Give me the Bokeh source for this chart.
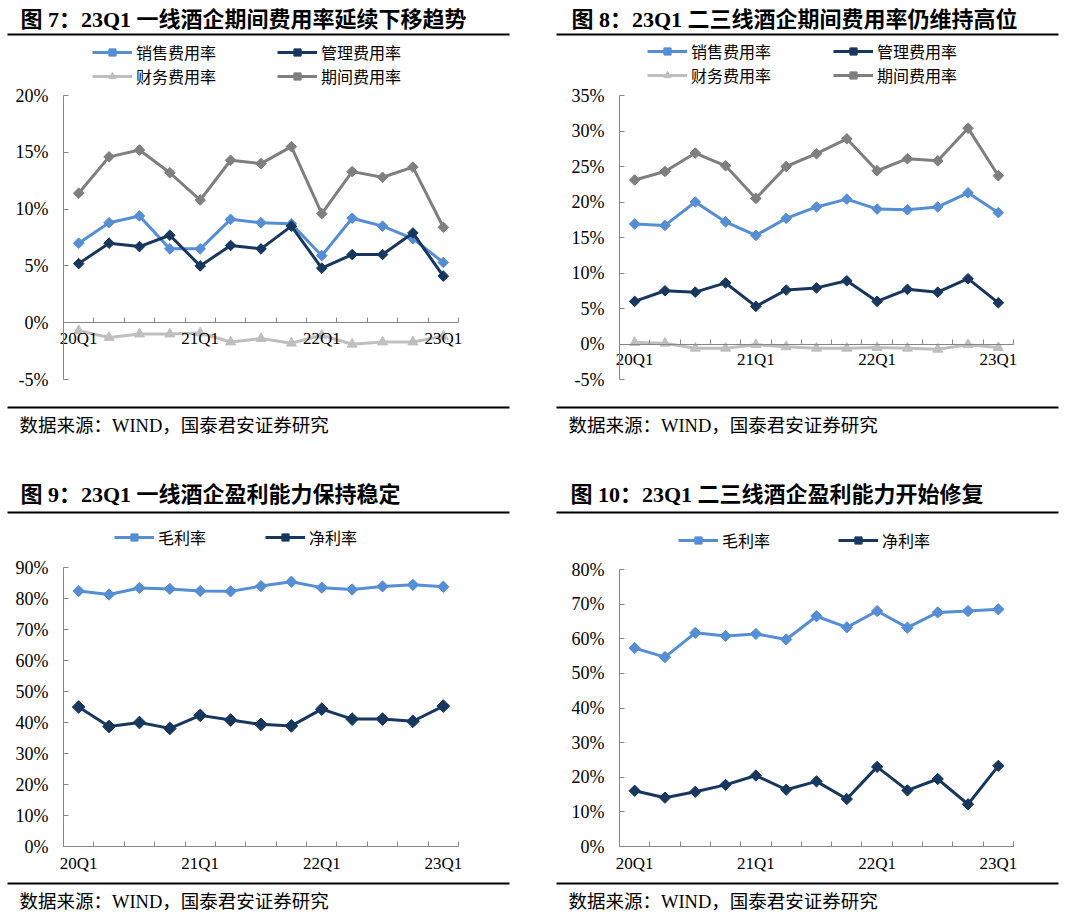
from bokeh.plotting import figure
from bokeh.models import (Range1d, FixedTicker, PrintfTickFormatter, Legend, LegendItem,
                          Label, Arrow)
from bokeh.layouts import column, row
from bokeh.embed import file_html
from bokeh.resources import INLINE
import numpy as np

# ---------------- data ----------------
quarters = ["20Q1", "20Q2", "20Q3", "20Q4", "21Q1", "21Q2", "21Q3", "21Q4",
            "22Q1", "22Q2", "22Q3", "22Q4", "23Q1"]
shown_quarters = ["20Q1", "21Q1", "22Q1", "23Q1"]

# 图7 一线酒企 (%)
sales_1 = [7.0, 8.8, 9.4, 6.5, 6.5, 9.1, 8.8, 8.7, 5.9, 9.2, 8.5, 7.4, 5.3]
admin_1 = [5.2, 7.0, 6.7, 7.7, 5.0, 6.8, 6.5, 8.5, 4.8, 6.0, 6.0, 7.9, 4.1]
fin_1 = [-0.7, -1.3, -1.0, -1.0, -0.9, -1.7, -1.4, -1.8, -1.1, -1.9, -1.7, -1.7, -1.2]
period_1 = [11.4, 14.6, 15.2, 13.2, 10.8, 14.3, 14.0, 15.5, 9.6, 13.3, 12.8, 13.7, 8.4]

# 图8 二三线酒企 (%)
sales_2 = [16.9, 16.7, 20.0, 17.2, 15.3, 17.7, 19.3, 20.4, 19.0, 18.9, 19.3, 21.3, 18.5]
admin_2 = [6.0, 7.5, 7.3, 8.6, 5.3, 7.6, 7.9, 8.9, 6.0, 7.7, 7.3, 9.2, 5.8]
fin_2 = [0.2, 0.1, -0.6, -0.6, -0.1, -0.4, -0.6, -0.6, -0.5, -0.6, -0.75, -0.1, -0.5]
period_2 = [23.1, 24.3, 26.9, 25.1, 20.5, 25.0, 26.8, 28.9, 24.4, 26.1, 25.8, 30.4, 23.7]

# 图9 一线酒企盈利能力 (%)
gross_3 = [82.4, 81.3, 83.4, 83.1, 82.4, 82.3, 84.0, 85.4, 83.5, 82.9, 83.9, 84.4, 83.8]
net_3 = [45.0, 38.7, 40.0, 38.1, 42.3, 40.8, 39.4, 38.9, 44.3, 41.1, 41.1, 40.4, 45.3]

# 图10 二三线酒企盈利能力 (%)
gross_4 = [57.3, 54.7, 61.7, 60.8, 61.4, 59.8, 66.5, 63.3, 68.0, 63.2, 67.6, 68.0, 68.5]
net_4 = [16.1, 14.1, 15.8, 17.8, 20.5, 16.4, 18.8, 13.7, 23.0, 16.2, 19.5, 12.2, 23.3]

titles = ["图 7：23Q1 一线酒企期间费用率延续下移趋势",
          "图 8：23Q1 二三线酒企期间费用率仍维持高位",
          "图 9：23Q1 一线酒企盈利能力保持稳定",
          "图 10：23Q1 二三线酒企盈利能力开始修复"]
source_text = "数据来源：WIND，国泰君安证券研究"
exp_labels = ["销售费用率", "管理费用率", "财务费用率", "期间费用率"]
prof_labels = ["毛利率", "净利率"]

# ---------------- style ----------------
BLUE = "#558ED5"
NAVY = "#17375E"
GRAY = "#7F7F7F"
LGRAY = "#BFBFBF"
AXIS = "#868686"
MIX_FONT = "Liberation Serif, Noto Sans CJK SC"
CJK_FONT = "Noto Sans CJK SC"
NUM_FONT = "Liberation Serif"

xs = list(range(len(quarters)))
NQ = len(quarters)


def make_panel(width, height, fl, fr, ft, fb, y0, y1, ystep, x_axis_y):
    # frame = whole figure; the data area is positioned by the ranges
    kx = NQ / (fr - fl)
    ky = (y1 - y0) / (fb - ft)
    xr = Range1d(-0.5 - fl * kx, NQ - 0.5 + (width - fr) * kx)
    yr = Range1d(y0 - (height - fb) * ky, y1 + ft * ky)
    p = figure(width=width, height=height, output_backend="svg", toolbar_location=None,
               x_range=xr, y_range=yr, min_border=0,
               min_border_left=0, min_border_right=0, min_border_top=0, min_border_bottom=0)
    p.outline_line_color = None
    p.grid.visible = False
    p.background_fill_color = "white"
    p.border_fill_color = "white"

    xa = p.xaxis[0]
    xa.fixed_location = x_axis_y
    xa.bounds = (-0.5, NQ - 0.5)
    xa.ticker = FixedTicker(ticks=[quarters.index(q) for q in shown_quarters],
                            minor_ticks=[i - 0.5 for i in range(NQ + 1)])
    xa.major_label_overrides = {quarters.index(q): q for q in shown_quarters}
    xa.major_tick_in = 0
    xa.major_tick_out = 0
    xa.minor_tick_in = 5
    xa.minor_tick_out = 0
    xa.minor_tick_line_color = AXIS
    xa.axis_line_color = AXIS
    xa.major_label_text_font = NUM_FONT
    xa.major_label_text_font_size = "17px"
    xa.major_label_text_color = "black"
    xa.major_label_standoff = 6

    ya = p.yaxis[0]
    ya.fixed_location = -0.5
    ya.bounds = (y0, y1)
    ya.ticker = FixedTicker(ticks=[float(v) for v in np.arange(y0, y1 + 0.001, ystep)])
    ya.formatter = PrintfTickFormatter(format="%d%%")
    ya.major_tick_in = 5
    ya.major_tick_out = 0
    ya.minor_tick_line_color = None
    ya.major_tick_line_color = AXIS
    ya.axis_line_color = AXIS
    ya.major_label_text_font = NUM_FONT
    ya.major_label_text_font_size = "18px"
    ya.major_label_text_color = "black"
    ya.major_label_standoff = 15

    def to_data(px, py):
        return xr.start + px * kx, yr.end - py * ky

    p._to_data = to_data
    p._h = height
    return p


def decorate(p, title, tx, ty, rule_x0, rule_x1, rule_top, rule_bottom, sx, sy):
    to_data = p._to_data
    x, y = to_data(tx, ty)
    p.add_layout(Label(x=x, y=y, text=title, text_font=MIX_FONT, text_font_size="22px",
                       text_font_style="bold", text_baseline="middle", text_align="left",
                       text_color="black"))
    for ry in (rule_top, rule_bottom):
        xa_, ya_ = to_data(rule_x0, ry)
        xb_, yb_ = to_data(rule_x1, ry)
        p.add_layout(Arrow(end=None, x_start=xa_, y_start=ya_, x_end=xb_, y_end=yb_,
                           line_color="black", line_width=2))
    x, y = to_data(sx, sy)
    p.add_layout(Label(x=x, y=y, text=source_text, text_font=MIX_FONT, text_font_size="18.5px",
                       text_baseline="middle", text_align="left", text_color="black"))


def series(p, vals, color, marker, size):
    r1 = p.line(xs, vals, line_color=color, line_width=3)
    if marker == "diamond":
        r2 = p.scatter(xs, vals, marker="square", angle=np.pi / 4, size=size,
                       fill_color=color, line_color=color)
    else:
        r2 = p.scatter(xs, vals, marker="triangle", size=size, fill_color=color, line_color=color)
    return [r1, r2]


ITEM_H = 18


def add_legend(p, items, gx, cy, label_width, spacing):
    vx = gx
    vy = p._h - (cy + ITEM_H / 2)
    lg = Legend(items=items, orientation="horizontal", location=(vx, vy),
                glyph_width=40, glyph_height=ITEM_H, label_height=ITEM_H,
                label_width=label_width, label_standoff=4, spacing=spacing,
                padding=0, margin=0, border_line_color=None, background_fill_alpha=0,
                label_text_font=CJK_FONT, label_text_font_size="16px",
                label_text_color="black")
    p.add_layout(lg)


# ---------------- panel 1 ----------------
p1 = make_panel(548, 458, 63, 458, 95, 379, -5, 20, 5, 0)
r_fin1 = series(p1, fin_1, LGRAY, "triangle", 10)
r_per1 = series(p1, period_1, GRAY, "diamond", 7.5)
r_sal1 = series(p1, sales_1, BLUE, "diamond", 7.5)
r_adm1 = series(p1, admin_1, NAVY, "diamond", 7.5)
decorate(p1, titles[0], 20, 19, 7, 509, 34, 407, 19, 425)
add_legend(p1, [LegendItem(label=exp_labels[0], renderers=r_sal1),
                LegendItem(label=exp_labels[1], renderers=r_adm1)], 92, 55, 120, 21)
add_legend(p1, [LegendItem(label=exp_labels[2], renderers=r_fin1),
                LegendItem(label=exp_labels[3], renderers=r_per1)], 92, 79, 120, 21)

# ---------------- panel 2 ----------------
p2 = make_panel(528, 458, 71, 465, 95, 379, -5, 35, 5, 0)
r_fin2 = series(p2, fin_2, LGRAY, "triangle", 10)
r_per2 = series(p2, period_2, GRAY, "diamond", 7.5)
r_sal2 = series(p2, sales_2, BLUE, "diamond", 7.5)
r_adm2 = series(p2, admin_2, NAVY, "diamond", 7.5)
decorate(p2, titles[1], 23, 19, 8, 510, 34, 407, 20, 425)
add_legend(p2, [LegendItem(label=exp_labels[0], renderers=r_sal2),
                LegendItem(label=exp_labels[1], renderers=r_adm2)], 99, 54, 120, 22)
add_legend(p2, [LegendItem(label=exp_labels[2], renderers=r_fin2),
                LegendItem(label=exp_labels[3], renderers=r_per2)], 99, 78, 120, 22)

# ---------------- panel 3 ----------------
p3 = make_panel(548, 456, 63, 458, 109, 388, 0, 90, 10, 0)
p3.xaxis.major_label_standoff = 7
r_g3 = series(p3, gross_3, BLUE, "diamond", 8)
r_n3 = series(p3, net_3, NAVY, "diamond", 9)
decorate(p3, titles[2], 20, 36, 7, 509, 54, 425, 19, 443)
add_legend(p3, [LegendItem(label=prof_labels[0], renderers=r_g3),
                LegendItem(label=prof_labels[1], renderers=r_n3)], 114, 82, 87, 20)

# ---------------- panel 4 ----------------
p4 = make_panel(528, 456, 71, 465, 111, 388, 0, 80, 10, 0)
p4.xaxis.major_label_standoff = 7
r_g4 = series(p4, gross_4, BLUE, "diamond", 8)
r_n4 = series(p4, net_4, NAVY, "diamond", 8)
decorate(p4, titles[3], 22, 36, 8, 510, 54, 425, 20, 443)
add_legend(p4, [LegendItem(label=prof_labels[0], renderers=r_g4),
                LegendItem(label=prof_labels[1], renderers=r_n4)], 130, 85, 96, 20)

layout = column(row(p1, p2), row(p3, p4))
open("out.html", "w").write(file_html(layout, INLINE))
